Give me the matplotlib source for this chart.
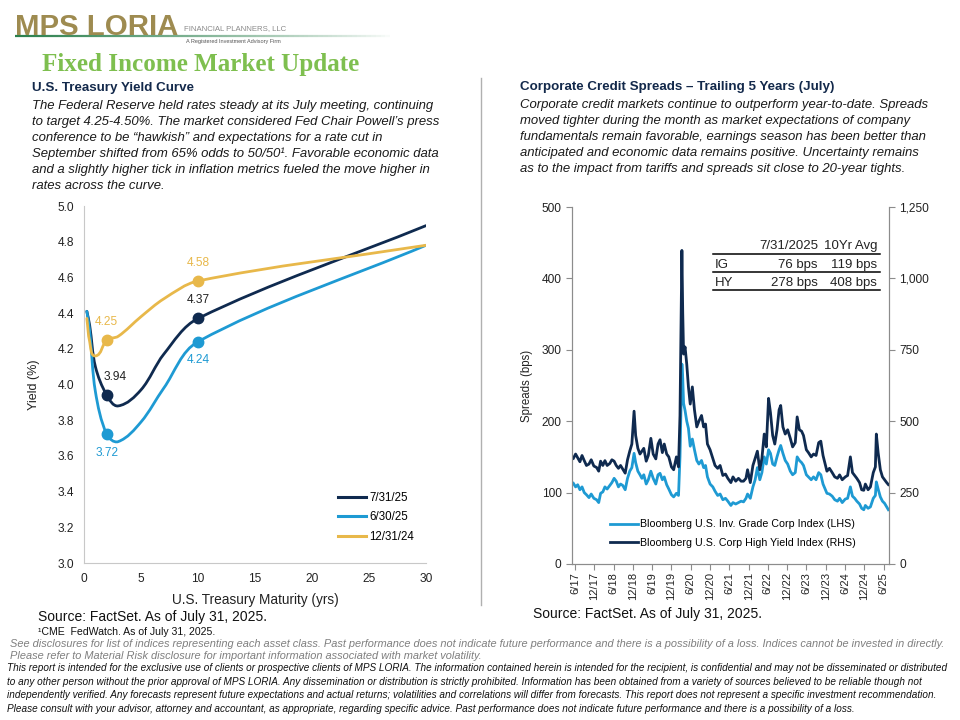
import numpy as np
import pandas as pd
import matplotlib
matplotlib.use('Agg')
import matplotlib.pyplot as plt
from matplotlib.path import Path
from matplotlib.patches import PathPatch
from matplotlib.lines import Line2D
from matplotlib.collections import LineCollection
from matplotlib.ticker import FuncFormatter

plt.rcParams['font.family'] = ['Liberation Sans', 'DejaVu Sans']

NAVY = '#0f2a4f'
SKY = '#1e9ad3'
GOLD = '#e8b84a'
GREY = '#8c8c8c'
TXT = '#1a1a1a'

# ---- treasury curve (yrs, %) ----
maturity = [0.25, 0.5, 1, 2, 3, 5, 7, 10, 30]
curve_names = ['7/31/25', '6/30/25', '12/31/24']
curve_jul25 = [4.41, 4.33, 4.10, 3.94, 3.88, 3.97, 4.17, 4.37, 4.89]
curve_jun25 = [4.41, 4.30, 3.96, 3.72, 3.68, 3.79, 3.98, 4.24, 4.78]
curve_dec24 = [4.37, 4.24, 4.16, 4.25, 4.27, 4.38, 4.48, 4.58, 4.78]
marked_maturity = [2, 10]
label_side = [[1, 1], [-1, -1], [1, 1]]   # above / below the dot

# ---- credit spreads (bps): date, IG (LHS), HY (RHS) ----
spreads = [
    ('2017-05-30', 113, 370), ('2017-06-20', 108, 385), ('2017-07-10', 111, 372),
    ('2017-07-31', 104, 358), ('2017-08-20', 108, 380), ('2017-09-10', 100, 362),
    ('2017-10-01', 97, 345), ('2017-10-25', 93, 350), ('2017-11-15', 98, 365),
    ('2017-12-10', 92, 343), ('2018-01-05', 90, 338), ('2018-01-25', 86, 325),
    ('2018-02-12', 99, 360), ('2018-03-05', 101, 345), ('2018-03-25', 108, 362),
    ('2018-04-15', 105, 345), ('2018-05-10', 110, 352), ('2018-05-30', 114, 365),
    ('2018-06-20', 120, 360), ('2018-07-10', 116, 345), ('2018-07-31', 108, 335),
    ('2018-08-20', 112, 345), ('2018-09-10', 110, 332), ('2018-10-03', 104, 318),
    ('2018-10-25', 120, 365), ('2018-11-15', 130, 395), ('2018-12-05', 135, 420),
    ('2018-12-26', 155, 535), ('2019-01-10', 142, 450), ('2019-01-31', 130, 405),
    ('2019-02-20', 125, 385), ('2019-03-10', 120, 395), ('2019-03-28', 125, 405),
    ('2019-04-20', 112, 360), ('2019-05-10', 118, 380), ('2019-06-03', 130, 440),
    ('2019-06-25', 120, 385), ('2019-07-20', 112, 368), ('2019-08-10', 125, 420),
    ('2019-08-29', 127, 435), ('2019-09-20', 118, 390), ('2019-10-08', 122, 420),
    ('2019-10-31', 111, 385), ('2019-11-20', 105, 375), ('2019-12-15', 97, 340),
    ('2020-01-05', 94, 330), ('2020-01-31', 99, 375), ('2020-02-20', 96, 340),
    ('2020-03-05', 150, 520), ('2020-03-23', 280, 1098), ('2020-03-31', 260, 880),
    ('2020-04-08', 225, 735), ('2020-04-22', 215, 760), ('2020-05-08', 200, 700),
    ('2020-05-24', 190, 620), ('2020-06-10', 165, 560), ('2020-06-30', 175, 620),
    ('2020-07-20', 160, 540), ('2020-08-11', 145, 480), ('2020-08-31', 140, 500),
    ('2020-09-25', 145, 520), ('2020-10-15', 135, 480), ('2020-11-02', 138, 490),
    ('2020-11-20', 122, 420), ('2020-12-15', 112, 400), ('2021-01-10', 108, 370),
    ('2021-01-31', 102, 345), ('2021-02-25', 96, 335), ('2021-03-20', 98, 345),
    ('2021-04-15', 90, 310), ('2021-05-10', 92, 315), ('2021-06-01', 88, 300),
    ('2021-06-30', 82, 285), ('2021-07-20', 86, 305), ('2021-08-15', 84, 290),
    ('2021-09-10', 86, 300), ('2021-10-05', 88, 290), ('2021-10-28', 87, 290),
    ('2021-11-20', 92, 300), ('2021-12-05', 98, 330), ('2021-12-31', 92, 285),
    ('2022-01-25', 108, 345), ('2022-02-15', 118, 370), ('2022-03-08', 135, 395),
    ('2022-03-31', 118, 330), ('2022-04-20', 128, 370), ('2022-05-12', 150, 455),
    ('2022-06-01', 140, 410), ('2022-06-22', 160, 580), ('2022-07-10', 155, 530),
    ('2022-07-31', 140, 450), ('2022-08-20', 138, 420), ('2022-09-10', 150, 470),
    ('2022-09-30', 160, 540), ('2022-10-15', 166, 555), ('2022-11-05', 155, 480),
    ('2022-11-27', 145, 455), ('2022-12-20', 140, 470), ('2023-01-14', 130, 440),
    ('2023-02-05', 125, 410), ('2023-03-02', 128, 425), ('2023-03-20', 150, 515),
    ('2023-04-10', 145, 470), ('2023-05-01', 142, 465), ('2023-05-19', 138, 450),
    ('2023-06-15', 125, 400), ('2023-07-05', 122, 390), ('2023-07-31', 118, 375),
    ('2023-08-22', 122, 385), ('2023-09-15', 118, 380), ('2023-10-10', 128, 425),
    ('2023-10-30', 125, 430), ('2023-11-20', 112, 380), ('2023-12-27', 99, 325),
    ('2024-01-20', 98, 335), ('2024-02-15', 95, 320), ('2024-03-10', 90, 305),
    ('2024-04-05', 88, 300), ('2024-04-25', 92, 312), ('2024-05-20', 86, 295),
    ('2024-06-18', 91, 305), ('2024-07-10', 92, 310), ('2024-08-05', 108, 375),
    ('2024-08-25', 95, 320), ('2024-09-15', 92, 310), ('2024-10-05', 88, 300),
    ('2024-10-31', 84, 285), ('2024-11-20', 78, 260), ('2024-12-10', 76, 258),
    ('2024-12-25', 82, 280), ('2025-01-20', 78, 260), ('2025-02-11', 80, 270),
    ('2025-03-10', 92, 320), ('2025-03-30', 96, 340), ('2025-04-08', 115, 455),
    ('2025-04-25', 105, 390), ('2025-05-16', 94, 330), ('2025-06-05', 88, 305),
    ('2025-06-25', 85, 295), ('2025-07-15', 80, 285), ('2025-07-31', 76, 278)]
spread_dates = [d for d, _, _ in spreads]
ig_spread = [v for _, v, _ in spreads]
hy_spread = [v for _, _, v in spreads]
tick_labels = ['6/17', '12/17', '6/18', '12/18', '6/19', '12/19', '6/20', '12/20', '6/21',
               '12/21', '6/22', '12/22', '6/23', '12/23', '6/24', '12/24', '6/25']
table_rows = [['IG', '76 bps', '119 bps'], ['HY', '278 bps', '408 bps']]

left_text = [
    'The Federal Reserve held rates steady at its July meeting, continuing',
    'to target 4.25-4.50%. The market considered Fed Chair Powell\u2019s press',
    'conference to be \u201chawkish\u201d and expectations for a rate cut in',
    'September shifted from 65% odds to 50/50\u00b9. Favorable economic data',
    'and a slightly higher tick in inflation metrics fueled the move higher in',
    'rates across the curve.']
right_text = [
    'Corporate credit markets continue to outperform year-to-date. Spreads',
    'moved tighter during the month as market expectations of company',
    'fundamentals remain favorable, earnings season has been better than',
    'anticipated and economic data remains positive. Uncertainty remains',
    'as to the impact from tariffs and spreads sit close to 20-year tights.']
grey_notes = [
    'See disclosures for list of indices representing each asset class. Past performance does not indicate future performance and there is a possibility of a loss. Indices cannot be invested in directly.',
    'Please refer to Material Risk disclosure for important information associated with market volatility.']
legal_notes = [
    'This report is intended for the exclusive use of clients or prospective clients of MPS LORIA. The information contained herein is intended for the recipient, is confidential and may not be disseminated or distributed',
    'to any other person without the prior approval of MPS LORIA. Any dissemination or distribution is strictly prohibited. Information has been obtained from a variety of sources believed to be reliable though not',
    'independently verified. Any forecasts represent future expectations and actual returns; volatilities and correlations will differ from forecasts. This report does not represent a specific investment recommendation.',
    'Please consult with your advisor, attorney and accountant, as appropriate, regarding specific advice. Past performance does not indicate future performance and there is a possibility of a loss.']

W, H = 960, 720
fig = plt.figure(figsize=(9.6, 7.2), dpi=100)
fig.patch.set_facecolor('white')


def fx(px):
    return px / W


def fy(py):
    return 1 - py / H


def fit(t, width_px):
    r = fig.canvas.get_renderer()
    w = t.get_window_extent(r).width
    t.set_fontsize(t.get_fontsize() * width_px / w)
    return t.get_fontsize()


def smooth_path(x, y, sx, sy):
    # Excel-like smoothed line made of cubic Bezier pieces
    p = np.column_stack([np.asarray(x, float) * sx, np.asarray(y, float) * sy])
    n = len(p)
    d = np.zeros_like(p)
    for i in range(n):
        v = p[min(i + 1, n - 1)] - p[max(i - 1, 0)]
        d[i] = v / np.hypot(*v)
    verts, codes = [p[0]], [Path.MOVETO]
    for i in range(n - 1):
        L = np.hypot(*(p[i + 1] - p[i])) / 3
        verts += [p[i] + d[i] * L, p[i + 1] - d[i + 1] * L, p[i + 1]]
        codes += [Path.CURVE4] * 3
    return Path(np.array(verts) / [sx, sy], codes)


# ---------------- header ----------------
seg_x = np.linspace(fx(15), fx(395), 80)
segs = [[(seg_x[i], fy(36)), (seg_x[i + 1], fy(36))] for i in range(len(seg_x) - 1)]
fade = np.linspace(1, 0, len(segs)) ** 0.8
lc = LineCollection(segs, colors=[(0.17, 0.5, 0.3, a) for a in fade], linewidths=1.6,
                    transform=fig.transFigure)
fig.add_artist(lc)
logo = fig.text(fx(15), fy(27), 'MPS LORIA', color='#9e8b50', fontsize=30,
                fontweight='bold', va='center', ha='left')
fit(logo, 163)
fp = fig.text(fx(184), fy(29), 'FINANCIAL PLANNERS, LLC', color='#8a8a8a', fontsize=8,
              va='center', ha='left', family=['Liberation Sans Narrow', 'Liberation Sans'])
fit(fp, 103)
ra = fig.text(fx(186), fy(42), 'A Registered Investment Advisory Firm', color='#555555',
              fontsize=4.5, va='center', ha='left')
fit(ra, 94)
ttl = fig.text(fx(42), fy(65), 'Fixed Income Market Update', color='#7ebf4f', fontsize=19,
               fontweight='bold', va='center', ha='left', family=['Liberation Serif', 'DejaVu Serif'])
fit(ttl, 318)

fig.text(fx(32), fy(88), 'U.S. Treasury Yield Curve', color='#13294b', fontsize=9.6,
         fontweight='bold', va='center', ha='left')
fig.text(fx(520), fy(87), 'Corporate Credit Spreads \u2013 Trailing 5 Years (July)', color='#13294b',
         fontsize=9.6, fontweight='bold', va='center', ha='left')

t0 = fig.text(fx(32), fy(106), left_text[0], color=TXT, fontsize=9, style='italic',
              va='center', ha='left')
fs = fit(t0, 403)
for i, line in enumerate(left_text[1:], 1):
    fig.text(fx(32), fy(106 + 16 * i), line, color=TXT, fontsize=fs, style='italic',
             va='center', ha='left')
t1 = fig.text(fx(520), fy(105), right_text[0], color=TXT, fontsize=9, style='italic',
              va='center', ha='left')
fs = fit(t1, 413)
for i, line in enumerate(right_text[1:], 1):
    fig.text(fx(520), fy(105 + 16 * i), line, color=TXT, fontsize=fs, style='italic',
             va='center', ha='left')

fig.add_artist(Line2D([fx(481), fx(481)], [fy(78), fy(605)], color='#b0b0b0', lw=1,
                      transform=fig.transFigure))

# ---------------- yield curve ----------------
ax = fig.add_axes([fx(84), fy(563), fx(426 - 84), (563 - 206) / H])
curves = [curve_jul25, curve_jun25, curve_dec24]
colors = [NAVY, SKY, GOLD]
sx, sy = 342 / 30, 357 / 2
for name, vals, c, side in zip(curve_names, curves, colors, label_side):
    ax.add_patch(PathPatch(smooth_path(maturity, vals, sx, sy), fill=False,
                           edgecolor=c, lw=2, capstyle='round', zorder=3))
    ax.plot([], [], color=c, lw=2.2, label=name)
    for m, s in zip(marked_maturity, side):
        v = vals[maturity.index(m)]
        ax.plot(m, v, 'o', color=c, ms=7.5, zorder=4)
        dx = 6 if (c == NAVY and m == 2) else 0
        dy = 13 if s > 0 else -13
        ax.annotate(f'{v:.2f}', (m, v), xytext=(dx, dy), textcoords='offset points',
                    ha='center', va='center', color=c if c != NAVY else '#222222',
                    fontsize=8.6)
ax.set_xlim(0, 30)
ax.set_ylim(3.0, 5.0)
ax.set_xticks(range(0, 31, 5))
ax.set_yticks(np.arange(3.0, 5.01, 0.2))
ax.yaxis.set_major_formatter(FuncFormatter(lambda v, p: f'{v:.1f}'))
ax.tick_params(length=0, labelsize=8.6, colors='#222222', pad=7)
for sp in ['top', 'right']:
    ax.spines[sp].set_visible(False)
for sp in ['left', 'bottom']:
    ax.spines[sp].set_color('#c8c8c8')
ax.set_xlabel('U.S. Treasury Maturity (yrs)', fontsize=9.8, color='#222222')
ax.xaxis.set_label_coords(0.5, -0.085)
ax.set_ylabel('Yield (%)', fontsize=9, color='#222222')
ax.yaxis.set_label_coords(-0.128, 0.5)
ax.legend(loc='upper left', bbox_to_anchor=(0.743, 0.198), frameon=False, fontsize=8.3,
          handlelength=2.4, handletextpad=0.3, labelspacing=0.62, borderpad=0,
          borderaxespad=0)

# ---------------- credit spreads ----------------
dates = pd.to_datetime(spread_dates)
bx = fig.add_axes([fx(572), fy(564), fx(889 - 572), (564 - 207) / H])
bx.plot(dates, ig_spread, color=SKY, lw=2, label='Bloomberg U.S. Inv. Grade Corp Index (LHS)')
bx2 = bx.twinx()
bx2.plot(dates, hy_spread, color=NAVY, lw=2, label='Bloomberg U.S. Corp High Yield Index (RHS)')
bx.set_ylim(0, 500)
bx2.set_ylim(0, 1250)
bx.set_yticks(range(0, 501, 100))
bx2.set_yticks(range(0, 1251, 250))
bx2.yaxis.set_major_formatter(FuncFormatter(lambda v, p: f'{v:,.0f}'))
tick_dates = pd.date_range('2017-06-01', periods=len(tick_labels), freq='6MS') + pd.Timedelta(days=14)
bx.set_xticks(tick_dates)
bx.set_xticklabels(tick_labels, rotation=90, fontsize=8, color='#222222')
bx.set_xlim(pd.Timestamp('2017-05-17'), pd.Timestamp('2025-08-06'))
for a in (bx, bx2):
    a.spines['top'].set_visible(False)
    for sp in ['left', 'right', 'bottom']:
        a.spines[sp].set_color(GREY)
    a.tick_params(direction='out', length=4, color=GREY, labelsize=8.6, labelcolor='#222222')
bx.tick_params(axis='x', labelsize=8, pad=2)
bx.set_ylabel('Spreads (bps)', fontsize=8.3, color='#222222')
bx.yaxis.set_label_coords(-0.123, 0.5)
h1, l1 = bx.get_legend_handles_labels()
h2, l2 = bx2.get_legend_handles_labels()
bx2.legend(h1 + h2, l1 + l2, loc='upper left', bbox_to_anchor=(0.12, 0.125), frameon=False,
           fontsize=7.7, handlelength=2.6, handletextpad=0.2, labelspacing=0.8, borderpad=0,
           borderaxespad=0)

# stats table
tab_rows_y = [265, 283]
for py in [254, 272, 290]:
    fig.add_artist(Line2D([fx(713), fx(880)], [fy(py), fy(py)], color='black', lw=1.1,
                          transform=fig.transFigure))
fig.text(fx(818), fy(246), '7/31/2025', ha='right', va='center', fontsize=9.5, color='#222222')
fig.text(fx(877), fy(246), '10Yr Avg', ha='right', va='center', fontsize=9.5, color='#222222')
for py, row in zip(tab_rows_y, table_rows):
    fig.text(fx(715), fy(py), row[0], ha='left', va='center', fontsize=9.5, color='#222222')
    fig.text(fx(818), fy(py), row[1], ha='right', va='center', fontsize=9.5, color='#222222')
    fig.text(fx(877), fy(py), row[2], ha='right', va='center', fontsize=9.5, color='#222222')

# ---------------- footers ----------------
s1 = fig.text(fx(38), fy(617), 'Source: FactSet. As of July 31, 2025.', fontsize=10,
              va='center', ha='left', color='#111111')
fit(s1, 228)
s2 = fig.text(fx(533), fy(614), 'Source: FactSet. As of July 31, 2025.', fontsize=10,
              va='center', ha='left', color='#111111')
fit(s2, 230)
fn = fig.text(fx(38), fy(632), '\u00b9CME  FedWatch. As of July 31, 2025.', fontsize=7,
              va='center', ha='left', color='#111111')
fit(fn, 177)

narrow = ['Liberation Sans Narrow', 'Liberation Sans']
g0 = fig.text(fx(10), fy(644), grey_notes[0], fontsize=7, style='italic', color='#7f7f7f',
              va='center', ha='left', family=narrow)
fs = fit(g0, 936)
fig.text(fx(10), fy(656), grey_notes[1], fontsize=fs, style='italic', color='#7f7f7f',
         va='center', ha='left', family=narrow)
k0 = fig.text(fx(7), fy(668), legal_notes[0], fontsize=7, style='italic', color='#111111',
              va='center', ha='left', family=narrow)
fs = fit(k0, 940)
for i, line in enumerate(legal_notes[1:], 1):
    fig.text(fx(7), fy(668 + 13.7 * i), line, fontsize=fs, style='italic', color='#111111',
             va='center', ha='left', family=narrow)

fig.savefig('out.png', dpi=100)
